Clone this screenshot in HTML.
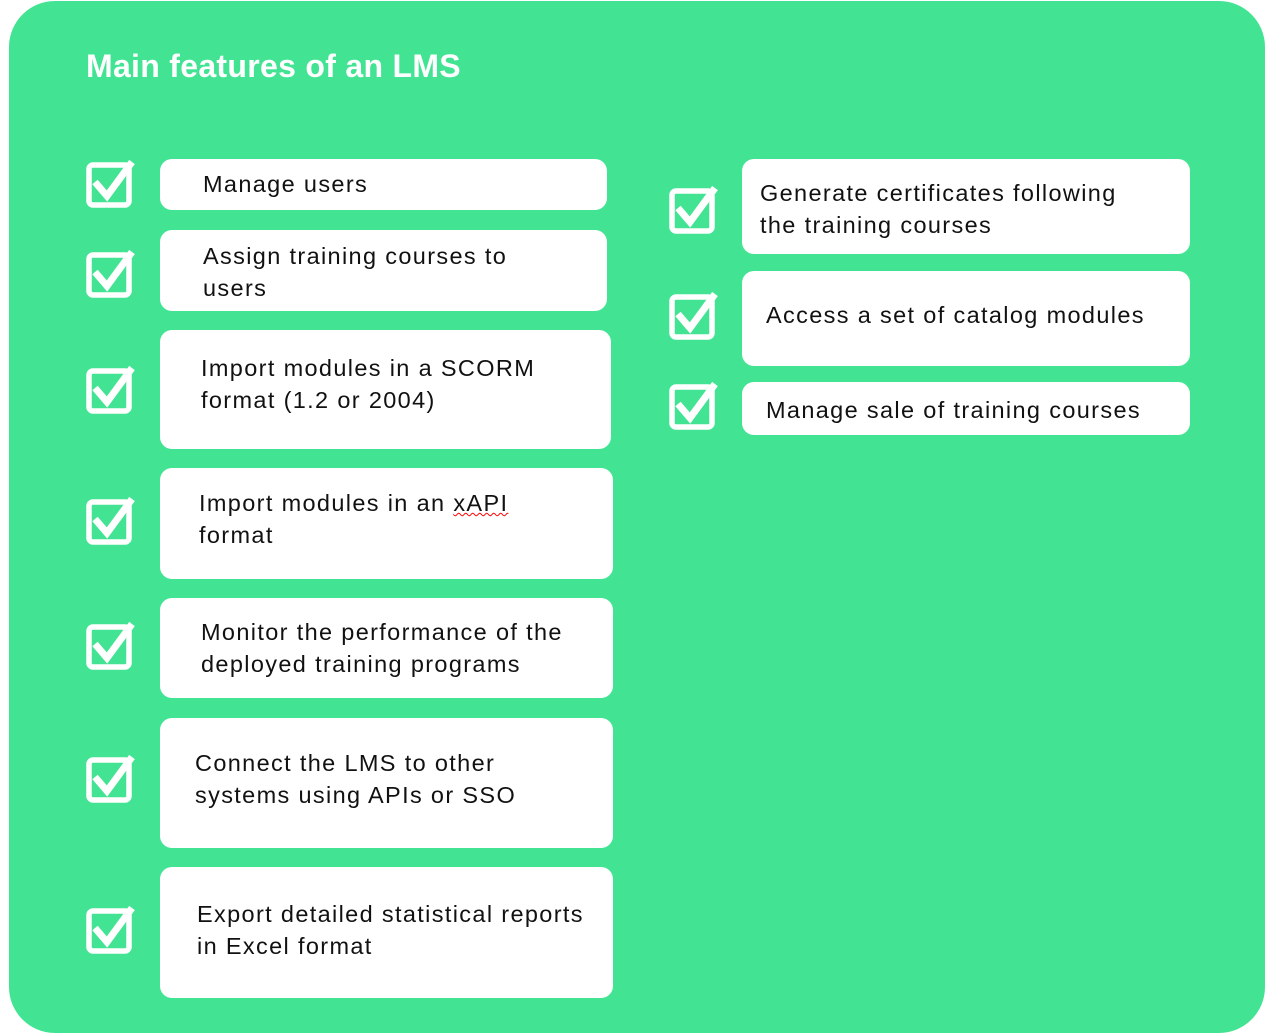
<!DOCTYPE html>
<html><head><style>
body{margin:0;width:1278px;height:1034px;background:#fff;position:relative;overflow:hidden;font-family:"Liberation Sans",sans-serif}
.bg{position:absolute;left:9px;top:1px;width:1256px;height:1032px;background:#42E493;border-radius:46px}
.t{position:absolute;left:86px;top:48px;color:#fff;font-weight:bold;font-size:32px;letter-spacing:0.3px}
.b{position:absolute;background:#fff;border-radius:12px}
.x{position:absolute;font-size:23.5px;line-height:32px;color:#111;letter-spacing:1.35px;white-space:nowrap}
svg{position:absolute}
</style></head><body>
<div class="bg"></div>
<div class="t">Main features of an LMS</div>

<div class="b" style="left:160px;top:159px;width:447px;height:51px"></div>
<div class="b" style="left:160px;top:230px;width:447px;height:81px"></div>
<div class="b" style="left:160px;top:330px;width:451px;height:119px"></div>
<div class="b" style="left:160px;top:468px;width:453px;height:111px"></div>
<div class="b" style="left:160px;top:598px;width:453px;height:100px"></div>
<div class="b" style="left:160px;top:718px;width:453px;height:130px"></div>
<div class="b" style="left:160px;top:867px;width:453px;height:131px"></div>
<div class="b" style="left:742px;top:159px;width:448px;height:95px"></div>
<div class="b" style="left:742px;top:271px;width:448px;height:95px"></div>
<div class="b" style="left:742px;top:382px;width:448px;height:53px"></div>

<div class="x" style="left:203px;top:168px">Manage users</div>
<div class="x" style="left:203px;top:240px">Assign training courses to<br>users</div>
<div class="x" style="left:201px;top:352px">Import modules in a SCORM<br>format (1.2 or 2004)</div>
<div class="x" style="left:199px;top:487px">Import modules in an <span style="text-decoration:underline wavy red;text-decoration-thickness:1px">xAPI</span><br>format</div>
<div class="x" style="left:201px;top:616px">Monitor the performance of the<br>deployed training programs</div>
<div class="x" style="left:195px;top:747px">Connect the LMS to other<br>systems using APIs or SSO</div>
<div class="x" style="left:197px;top:898px">Export detailed statistical reports<br>in Excel format</div>
<div class="x" style="left:760px;top:177px">Generate certificates following<br>the training courses</div>
<div class="x" style="left:766px;top:299px">Access a set of catalog modules</div>
<div class="x" style="left:766px;top:394px">Manage sale of training courses</div>

<svg width="0" height="0"><defs><g id="c"><rect x="3" y="7" width="40" height="40" rx="4" fill="none" stroke="#fff" stroke-width="5.5"/><path d="M9 24 L21 38 L46 4" fill="none" stroke="#fff" stroke-width="7" stroke-linejoin="miter"/></g></defs></svg>
<svg style="left:86px;top:158px" width="50" height="52"><use href="#c"/></svg>
<svg style="left:86px;top:248px" width="50" height="52"><use href="#c"/></svg>
<svg style="left:86px;top:364px" width="50" height="52"><use href="#c"/></svg>
<svg style="left:86px;top:495px" width="50" height="52"><use href="#c"/></svg>
<svg style="left:86px;top:620px" width="50" height="52"><use href="#c"/></svg>
<svg style="left:86px;top:753px" width="50" height="52"><use href="#c"/></svg>
<svg style="left:86px;top:904px" width="50" height="52"><use href="#c"/></svg>
<svg style="left:669px;top:184px" width="50" height="52"><use href="#c"/></svg>
<svg style="left:669px;top:290px" width="50" height="52"><use href="#c"/></svg>
<svg style="left:669px;top:380px" width="50" height="52"><use href="#c"/></svg>
</body></html>
